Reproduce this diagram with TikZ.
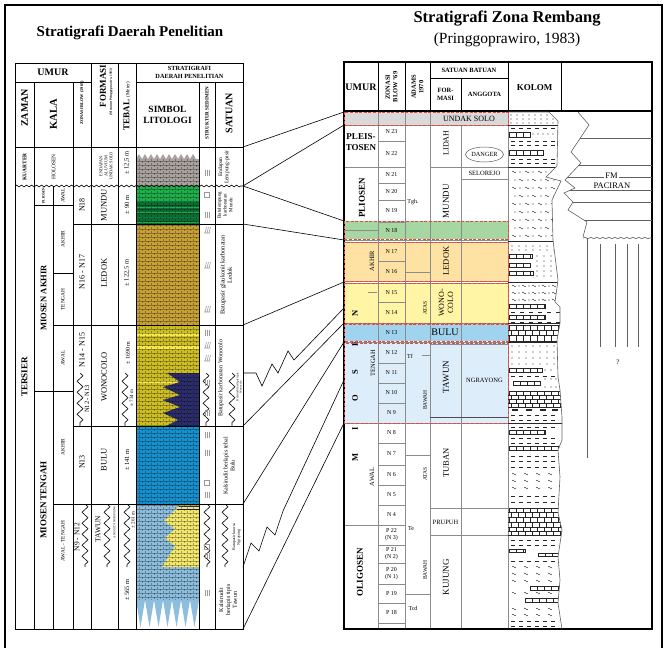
\documentclass[tikz,border=0pt]{standalone}
\usepackage{fontspec}
\setmainfont{Liberation Serif}
\usetikzlibrary{decorations.pathmorphing,shapes.geometric}

\definecolor{kgrey}{HTML}{A9A29E}
\definecolor{mgreen}{HTML}{1EB04C}
\definecolor{mgreendk}{HTML}{0D6B36}
\definecolor{lgold}{HTML}{C8A236}
\definecolor{wolive}{HTML}{CDBF23}
\definecolor{wyellow}{HTML}{F6EA4C}
\definecolor{wnavy}{HTML}{2C2E6C}
\definecolor{bblue}{HTML}{1792D0}
\definecolor{tblue}{HTML}{8DBEDD}
\definecolor{tyellow}{HTML}{F3E86C}
\definecolor{bandgrey}{HTML}{D9D9D9}
\definecolor{bandgreen}{HTML}{A6D6A1}
\definecolor{bandorange}{HTML}{FDE2A3}
\definecolor{bandyellow}{HTML}{FFF5A5}
\definecolor{bandblue}{HTML}{9FD3EE}
\definecolor{bandlight}{HTML}{DDEEFA}
\definecolor{bandred}{HTML}{E5483D}
\definecolor{gridgrey}{HTML}{8C8C8C}

\newcommand{\fsz}[1]{\fontsize{#1}{1.15\dimexpr#1pt\relax}\selectfont}
\newcommand{\brickrow}[4]{%
  \draw[lith] (#1,#3) rectangle (#2,#4);
  \foreach \k in {1,...,9}{%
    \pgfmathsetmacro\bx{#1+7*\k}%
    \ifdim\bx pt<#2pt \draw[lith] (\bx,#3) -- (\bx,#4);\fi}}
\newcommand{\tld}[2]{\draw[lith] (#1,#2) sin (#1+1,#2-0.8) cos (#1+2,#2) sin (#1+3,#2+0.8) cos (#1+4,#2);}
\newcommand{\lamin}[2]{\draw[strk] (#1-2,#2-3) -- (#1-2,#2+3) (#1,#2-3) -- (#1,#2+3) (#1+2,#2-3) -- (#1+2,#2+3);}
\newcommand{\sqmark}[2]{\draw[strk] (#1-2.5,#2-2.5) rectangle (#1+2.5,#2+2.5);}
\newcommand{\xbed}[2]{\draw[strk] (#1-3,#2+3) -- (#1+3,#2+3) (#1-2,#2+3) -- (#1-0.5,#2-3) (#1,#2+3) -- (#1+1.5,#2-3) (#1+2,#2+3) -- (#1+3.5,#2-3);}
\newcommand{\kedge}{549/112,558/121,557/166,546/177,561/181,552/200,553/240,558/280,555/302,560/307,560/323,557/340,558/377,560/390,562/417,562/440,558/450,560/477,558/513,562/530,558/557,560/580,558/603,562/629}
\newcommand{\fmedge}{578/112,589/125,571/152,581/163,565/180,575/188,564/193,573/202,568/210,587/222,583/237}

\tikzset{
  txt/.style={inner sep=0pt, align=center},
  vtxt/.style={txt, rotate=90},
  cell/.style={line width=0.6pt},
  gline/.style={gridgrey, line width=0.6pt},
  kline/.style={gray!75!black, line width=0.6pt},
  band/.style={draw=bandred, line width=1pt, dash pattern=on 3pt off 1.6pt},
  zz/.style={decorate, decoration={zigzag, segment length=11pt, amplitude=3pt}},
  corr/.style={line width=0.6pt},
  pat/.style={black, opacity=0.3, line width=0.35pt},
  lith/.style={black!85, line width=0.35pt},
  lithc/.style={black!85},
  strk/.style={black!40, line width=0.6pt}
}

\begin{document}
\begin{tikzpicture}[x=1pt, y=-1pt]
\useasboundingbox (0,0) rectangle (670,648);
\draw[line width=1.4pt] (5,648) -- (5,5) -- (662,5) -- (662,648);

\node[txt, font=\bfseries\fsz{15}] (titleL) at (130,33) {Stratigrafi Daerah Penelitian};
\node[txt, font=\bfseries\fsz{16.5}] (titleR) at (507,19) {Stratigrafi Zona Rembang};
\node[txt, font=\fsz{15.5}] (titleRsub) at (507,40) {(Pringgoprawiro, 1983)};

\fill[kgrey] (136,186) -- (136,159) foreach \x in {136,142,...,190} { -- (\x+3,154) -- (\x+6,159) } -- (199,159) -- (199,186) -- cycle;
\fill[mgreen] (136,186) rectangle (199,224);
\fill[mgreendk] (136,202) rectangle (199,224);
\foreach \y in {207,212,217,222} {\draw[mgreen, line width=0.7pt] (136,\y) -- (199,\y);}
\fill[lgold] (136,224) rectangle (199,325);
\fill[wolive] (136,325) rectangle (199,426);
\fill[wyellow] (136,333) rectangle (199,336) (136,346) rectangle (199,349) (136,381) rectangle (178,383);
\fill[wnavy] (167,373) -- (199,373) -- (199,426) -- (166,426) -- (178,420) -- (163,413) -- (180,407) -- (163,400) -- (180,395) -- (163,387) -- (180,382) -- cycle;
\fill[bblue] (136,426) rectangle (199,504);
\fill[tblue] (136,504) rectangle (199,600);
\foreach \x in {136,145,...,190} {\fill[tblue] (\x,600) -- (\x+4.5,627) -- (\x+9,600) -- cycle;}
\fill[tyellow] (181,504) -- (199,504) -- (199,567) -- (162,567) -- (175,546) -- (165,538) -- (175,529) -- (164,521) -- cycle;
\draw[wnavy, line width=0.8pt] (179,506) -- (199,506) (177,509) -- (199,509);
\begin{scope}
  \clip (136,159) rectangle (199,600);
  \foreach \y in {161,165,...,599} {\draw[pat] (136,\y) -- (199,\y);}
  \foreach \x in {139,145,...,199} {\draw[pat, dash pattern=on 2pt off 2pt] (\x,159) -- (\x,600);}
  \foreach \x in {142,148,...,199} {\draw[pat, dash pattern=on 2pt off 2pt, dash phase=2pt] (\x,159) -- (\x,600);}
\end{scope}

\draw[line width=1pt] (15,63) rectangle (243,629);
\draw[cell] (15,82) -- (91,82) (136,82) -- (243,82) (15,147) -- (243,147);
\foreach \x/\ya in {34/82, 73/82, 91/63, 118/63, 136/63, 199/82, 215/82}
  {\draw[cell] (\x,\ya) -- (\x,629);}
\draw[cell] (53,186) -- (53,629);
\draw[cell] (34,205) -- (73,205) (53,273) -- (73,273) (34,391) -- (73,391);
\foreach \y/\xa in {224/73, 325/53, 426/73, 504/53}
  {\draw[cell] (\xa,\y) -- (243,\y);}
\draw[cell, decorate, decoration={snake, segment length=5pt, amplitude=0.9pt}] (15,186) -- (243,186);
\foreach \x in {80,125,206,232} {\draw[cell, zz] (\x,373) -- (\x,426);}
\foreach \x in {85,107,127,207,225} {\draw[cell, zz] (\x,504) -- (\x,567);}

\node[txt, font=\bfseries\fsz{10}] (hUmurL) at (53,72.5) {UMUR};
\node[vtxt, font=\bfseries\fsz{10}] (hZaman) at (24.5,108) {ZAMAN};
\node[vtxt, font=\bfseries\fsz{10.5}] (hKala) at (53.5,114) {KALA};
\node[vtxt, font=\bfseries\fsz{4.3}] (hBlow) at (82,103) {ZONASI BLOW (1969)};
\node[vtxt, font=\bfseries\fsz{9}] (hFormasi) at (103,86) {FORMASI};
\node[vtxt, font=\bfseries\fsz{3.3}] (hMenurut) at (111,92) {(Menurut Pringgoprawiro, 1983)};
\node[vtxt] (hTebal) at (127,106) {{\bfseries\fsz{9}TEBAL} {\fsz{5}(Meter)}};
\node[txt, font=\bfseries\fsz{6.3}] (hStrat) at (189.5,72.5) {STRATIGRAFI\\DAERAH PENELITIAN};
\node[txt, font=\bfseries\fsz{9.5}] (hSimbol) at (167.5,114.5) {SIMBOL\\LITOLOGI};
\node[vtxt, font=\bfseries\fsz{5}] (hStruktur) at (207,113) {STRUKTUR SEDIMEN};
\node[vtxt, font=\bfseries\fsz{10}] (hSatuanL) at (229,113) {SATUAN};

\node[vtxt, font=\bfseries\fsz{5.5}] (kuarter) at (24.5,167) {KUARTER};
\node[vtxt, font=\fsz{5.5}] (holosen) at (53.5,167) {HOLOSEN};
\node[vtxt, font=\bfseries\fsz{9}] (tersier) at (24.5,377) {TERSIER};
\node[vtxt, font=\bfseries\fsz{3.6}] (pliosenL) at (43.5,195.5) {PLIOSEN};
\node[vtxt, font=\fsz{5.3}] (awalP) at (63,195.5) {AWAL};
\node[vtxt, font=\bfseries\fsz{8.5}] (mioAkhir) at (43.5,298) {MIOSEN AKHIR};
\node[vtxt, font=\fsz{5.3}] (akhirA) at (63,239) {AKHIR};
\node[vtxt, font=\fsz{5.3}] (tengahA) at (63,299.5) {TENGAH};
\node[vtxt, font=\fsz{5.3}] (awalA) at (63,358) {AWAL};
\node[vtxt, font=\bfseries\fsz{9}] (mioTengah) at (43.5,500) {MIOSEN TENGAH};
\node[vtxt, font=\fsz{5.3}] (akhirT) at (63,447) {AKHIR};
\node[vtxt, font=\fsz{5.3}] (awalT) at (63,541) {AWAL - TENGAH};

\node[vtxt, font=\fsz{8}] (zN18) at (82,205) {N18};
\node[vtxt, font=\fsz{8}] (zN1617) at (82,272) {N16 - N17};
\node[vtxt, font=\fsz{8}] (zN1415) at (82,350) {N14 - N15};
\node[vtxt, font=\fsz{6.5}] (zN1213) at (87,399) {N12 - N13};
\node[vtxt, font=\fsz{8}] (zN13) at (82,462) {N13};
\node[vtxt, font=\fsz{7.5}] (zN912) at (77,537) {N9 - N12};

\node[vtxt, font=\fsz{4.3}] (fAluvium) at (106,166) {ENDAPAN\\ALUVIUM\\UNDAK SOLO};
\node[vtxt, font=\fsz{8.5}] (fMundu) at (104,205) {MUNDU};
\node[vtxt, font=\fsz{8.5}] (fLedok) at (104,273) {LEDOK};
\node[vtxt, font=\fsz{8.5}] (fWonocolo) at (104,377) {WONOCOLO};
\node[vtxt, font=\fsz{8.5}] (fBulu) at (104,460) {BULU};
\node[vtxt, font=\fsz{7.5}] (fTawun) at (98,529) {TAWUN};
\node[vtxt, font=\fsz{3}] (fNgrayong) at (114.5,522) {ANGGOTA NGRAYONG};

\node[vtxt, font=\fsz{6.5}] (tKuarter) at (127,163) {± 12,5 m};
\node[vtxt, font=\fsz{6.5}] (tMundu) at (127,205) {± 90 m};
\node[vtxt, font=\fsz{6.5}] (tLedok) at (127,273) {± 122,5 m};
\node[vtxt, font=\fsz{6}] (tWono) at (128,353) {± 1690 m};
\node[vtxt, font=\fsz{5}] (tKalsi) at (131.5,398) {± 734 m};
\node[vtxt, font=\fsz{6.5}] (tBulu) at (127,460) {± 141 m};
\node[vtxt, font=\fsz{5}] (tNgrayong) at (133,520) {± 261 m};
\node[vtxt, font=\fsz{6.5}] (tTawun) at (127,590) {± 565 m};

\node[vtxt, font=\fsz{5.5}] (sAluvium) at (224,167) {Endapan\\Lempung-pasir};
\node[vtxt, font=\fsz{5}] (sMundu) at (225,205) {Batulempung\\karbonatan\\Mundu};
\node[vtxt, font=\fsz{6.3}] (sLedok) at (226,275) {Batupasir glaukonit karbonatan\\Ledok};
\node[vtxt, font=\fsz{6}] (sWono) at (221,378) {Batupasir karbonatan Wonocolo};
\node[vtxt, font=\fsz{3}] (sWonoKal) at (239,387) {Kalsirudit berlapis tipis\\Wonocolo};
\node[vtxt, font=\fsz{6}] (sBulu) at (229,466) {Kalsirudit berlapis tebal\\Bulu};
\node[vtxt, font=\fsz{4}] (sNgrayong) at (236.5,537) {Batupasir kuarsa\\Ngrayong};
\node[vtxt, font=\fsz{6}] (sTawun) at (228,600) {Kalsirudit\\berlapis tipis\\Tawun};

\foreach \y in {173,215,333,383,413,435,453,495,556,593} {\lamin{207}{\y}}
\foreach \y in {195,483,547} {\sqmark{207}{\y}}
\foreach \y in {230,265,309,345,358} {\xbed{207}{\y}}

\foreach \c/\ya/\yb in {bandgrey/112/125, bandgreen/221/239, bandorange/242/281, bandyellow/283/323, bandblue/324/341, bandlight/343/423}
  {\fill[\c] (344,\ya) rectangle (508,\yb);}

\foreach \x in {378,405,430,508} {\draw[gline] (\x,111) -- (\x,629);}
\draw[gline] (461,125) -- (461,629);
\foreach \y in {125,240,242,281,283,323,342,423} {\draw[gline] (344,\y) -- (508,\y);}
\draw[gline] (344,167) -- (405,167) (430,167) -- (508,167) (344,230) -- (378,230) (344,525) -- (378,525) (368,292) -- (377,292);
\foreach \y in {141,183,200,222,261,302,363,383,403,443,465,485,505,525,545,563,584,603,623} {\draw[gline] (378,\y) -- (405,\y);}
\draw[gline] (405,272) -- (430,272) (405,455) -- (430,455) (405,594) -- (430,594) (422,355) -- (430,355);
\draw[gline] (461,179) -- (508,179) (430,344) -- (508,344) (430,508) -- (508,508) (430,535) -- (508,535);
\draw[gray!60!black, line width=1pt] (430,417) -- (508,417);
\draw[line width=1.1pt] (344,62) rectangle (652,629);
\draw[line width=1.1pt] (344,111) -- (652,111);
\foreach \x in {378,405,430,508,561} {\draw[cell] (\x,62) -- (\x,111);}
\draw[cell] (430,78) -- (508,78) (461,78) -- (461,111);

\node[txt, font=\bfseries\fsz{10}] (hUmurR) at (361,87) {UMUR};
\node[vtxt, font=\bfseries\fsz{6.5}] (hBlowR) at (391.5,87) {ZONASI\\BLOW '69};
\node[vtxt, font=\bfseries\fsz{6.5}] (hAdams) at (417.5,87) {ADAMS\\1970};
\node[txt, font=\bfseries\fsz{6.5}] (hSatBat) at (469,70) {SATUAN BATUAN};
\node[txt, font=\bfseries\fsz{6.5}] (hForR) at (445.5,94.5) {FOR-\\MASI};
\node[txt, font=\bfseries\fsz{6.5}] (hAnggota) at (484.5,94.5) {ANGGOTA};
\node[txt, font=\bfseries\fsz{9}] (hKolom) at (534.5,88) {KOLOM};

\node[txt, font=\fsz{8}] (undak) at (469,118.5) {UNDAK SOLO};
\node[txt, font=\bfseries\fsz{9}] (pleis) at (361,142) {PLEIS-\\TOSEN};
\node[vtxt, font=\bfseries\fsz{9}] (pliosenR) at (362,198) {PLIOSEN};
\node[vtxt, font=\fsz{6.5}] (akhirR) at (372,261) {AKHIR};
\node[vtxt, font=\fsz{6.5}] (tengahR) at (373,363) {TENGAH};
\node[vtxt, font=\fsz{6.5}] (awalR) at (372,477) {AWAL};
\node[vtxt, font=\bfseries\fsz{9}] (oligosen) at (360,572) {OLIGOSEN};
\foreach \ch/\y [count=\i] in {N/313, E/344, S/372, O/398, I/429, M/457}
  {\node[vtxt, font=\bfseries\fsz{8.5}] (mio\i) at (355,\y) {\ch};}

\foreach \lbl/\y [count=\i] in {N 23/132, N 22/154, N 21/175, N 20/191.5, N 19/211, N 18/230.5, N 17/251.5, N 16/271.5, N 15/292.5, N 14/312.5, N 13/332.5, N 12/352.5, N 11/373, N 10/393, N 9/413, N 8/433, N 7/454, N 6/475, N 5/495, N 4/515, P 19/593.5, P 18/613}
  {\node[txt, font=\fsz{6}] (zr\i) at (391.5,\y) {\lbl};}
\foreach \ta/\tb/\y [count=\i] in {P 22/N 3/535, P 21/N 2/554, P 20/N 1/574}
  {\node[txt, font=\fsz{6}] (zp\i) at (391.5,\y) {\ta\\(\tb)};}

\node[txt, font=\fsz{6}] (tgh) at (413,202) {Tgh.};
\node[vtxt, font=\fsz{5.5}] (tfAtas) at (425,308) {ATAS};
\node[txt, font=\fsz{6}] (tf) at (410,356) {Tf};
\node[vtxt, font=\fsz{5.5}] (tfBawah) at (425,400) {BAWAH};
\node[vtxt, font=\fsz{5.5}] (teAtas) at (425,474) {ATAS};
\node[txt, font=\fsz{6}] (te) at (411,529) {Te};
\node[vtxt, font=\fsz{5.5}] (teBawah) at (425,570) {BAWAH};
\node[txt, font=\fsz{6}] (tcd) at (413,608) {Tcd};

\node[vtxt, font=\fsz{8}] (lidah) at (446,143) {LIDAH};
\node[vtxt, font=\fsz{9}] (munduR) at (446,201) {MUNDU};
\node[ellipse, draw=gray!70!black, line width=0.5pt, minimum width=38pt, minimum height=15pt, inner sep=0pt, font=\fsz{6.3}] (danger) at (484.5,154.5) {DANGER};
\node[txt, font=\fsz{6.5}] (selorejo) at (484.5,173) {SELOREJO};
\node[vtxt, font=\fsz{8.5}] (ledokR) at (446,261) {LEDOK};
\node[vtxt, font=\fsz{8}] (wonoR) at (446,303) {WONO-\\COLO};
\node[txt, font=\fsz{10}] (buluR) at (445,332.5) {BULU};
\node[vtxt, font=\fsz{9}] (tawunR) at (446,377) {TAWUN};
\node[txt, font=\fsz{6.5}] (ngrayongR) at (484.5,380) {NGRAYONG};
\node[vtxt, font=\fsz{8.5}] (tuban) at (446,463) {TUBAN};
\node[txt, font=\fsz{6.5}] (prupuh) at (445.5,522) {PRUPUH};
\node[vtxt, font=\fsz{9}] (kujung) at (446,577) {KUJUNG};

\foreach \c/\ya/\yb in {bandgrey/112/125, bandgreen/221/239, bandorange/242/281, bandyellow/283/323, bandblue/324/341, bandlight/343/423}
  {\draw[band] (344,\ya) rectangle (508,\yb);}

\begin{scope}
  \clip (508,112) foreach \x/\y in \kedge { -- (\x,\y) } -- (508,629) -- cycle;
  \foreach \y in {125,167,241,282,323,342,423,535} {\draw[lith] (508,\y) -- (565,\y);}
  \foreach \y in {115,119,123} {\foreach \x in {511,517,...,556} {\fill[lithc] (\x,\y) circle (0.7);}}
  \foreach \y in {128,141,145,159,163} {\foreach \x in {511,519,...,556} {\draw[lith] (\x,\y) -- ++(4,0);}}
  \brickrow{509}{530}{132}{137}
  \brickrow{509}{543}{150}{155}
  \foreach \x in {533,538,...,556} {\fill[lithc] (\x,134) circle (0.6);}
  \foreach \y in {172,188,204,220,236} {\foreach \x in {512,525,...,556} {\tld{\x}{\y} \fill[lithc] (\x+8,\y) circle (0.7);}}
  \foreach \y in {180,196,212,228} {\foreach \x in {515,528,...,556} {\fill[lithc] (\x,\y) circle (0.7); \tld{\x+4}{\y}}}
  \foreach \y in {246,250} {\foreach \x in {512,519,...,556} {\fill[lithc] (\x,\y) circle (0.7);}}
  \foreach \y in {256,261,266,271,276} {\foreach \x in {537,544,...,556} {\fill[lithc] (\x,\y) circle (0.7);}}
  \brickrow{509}{532}{254}{258}
  \brickrow{509}{530}{263}{267}
  \brickrow{509}{533}{271}{275}
  \foreach \y in {286,293,300} {\foreach \x in {512,522,...,556} {\tld{\x}{\y} \fill[lithc] (\x+7,\y) circle (0.6);}}
  \brickrow{509}{545}{304}{308}
  \foreach \x in {511,520,...,556} {\draw[lith] (\x,312) -- ++(4,0);}
  \brickrow{509}{545}{315}{319}
  \foreach \x in {511,520,...,556} {\draw[lith] (\x,322) -- ++(4,0);}
  \brickrow{509}{562}{325}{330}
  \brickrow{504}{562}{330}{335}
  \brickrow{509}{562}{335}{341}
  \foreach \y in {346,352,358,364} {\foreach \x in {512,519,...,556} {\fill[lithc] (\x,\y) circle (0.7);}}
  \brickrow{509}{542}{368}{372}
  \foreach \x in {545,551} {\fill[lithc] (\x,370) circle (0.7);}
  \foreach \x in {511,519,...,556} {\draw[lith] (\x,376) -- ++(4,0);}
  \brickrow{513}{540}{381}{385}
  \foreach \y in {379,387} {\foreach \x in {545,551,556} {\fill[lithc] (\x,\y) circle (0.7);}}
  \brickrow{509}{562}{391}{395}
  \brickrow{504}{562}{395}{399}
  \brickrow{509}{562}{399}{403}
  \brickrow{504}{562}{403}{407}
  \foreach \x in {512,526,540,552} {\fill[lithc] (\x,409) rectangle ++(6,2);}
  \foreach \y in {415,420} {\foreach \x in {511,519,...,556} {\draw[lith] (\x,\y) -- ++(4,0);}}
  \foreach \y in {427,438,443,456,461,467} {\foreach \x in {511,519,...,556} {\draw[lith] (\x,\y) -- ++(4,0);}}
  \brickrow{509}{545}{430}{434}
  \brickrow{509}{560}{446}{450}
  \foreach \y in {474,481,488} {\foreach \x in {512,524,...,556} {\tld{\x}{\y}}}
  \foreach \y in {496,502} {\foreach \x in {511,519,...,556} {\draw[lith] (\x,\y) -- ++(4,0);}}
  \brickrow{509}{562}{508}{512}
  \brickrow{504}{562}{512}{517}
  \brickrow{509}{562}{517}{522}
  \brickrow{504}{562}{522}{527}
  \brickrow{509}{562}{527}{531}
  \brickrow{504}{562}{531}{535}
  \foreach \y in {540,545,561} {\foreach \x in {511,519,...,556} {\draw[lith] (\x,\y) -- ++(4,0);}}
  \brickrow{509}{525}{549}{552}
  \brickrow{538}{560}{553}{556}
  \foreach \y in {567,574,581,593,609,615} {\foreach \x in {512,524,...,556} {\tld{\x}{\y}}}
  \brickrow{530}{560}{586}{590}
  \brickrow{525}{560}{598}{602}
  \foreach \y in {621,626} {\foreach \x in {511,519,...,556} {\draw[lith] (\x,\y) -- ++(4,0);}}
\end{scope}
\draw[kline] (508,112) foreach \x/\y in \kedge { -- (\x,\y) };

\draw[kline] (578,112) foreach \x/\y in \fmedge { -- (\x,\y) };
\begin{scope}
  \clip (652,112) foreach \x/\y in \fmedge { -- (\x,\y) } -- (652,237) -- cycle;
  \foreach \y in {138,165,177,190,202,220} {\draw[kline] (560,\y) -- (652,\y);}
\end{scope}
\node[txt, fill=white, inner sep=1pt, font=\fsz{8.5}] (fmLbl) at (611.5,176) {FM};
\node[txt, font=\fsz{8.5}] (pacLbl) at (612,186) {PACIRAN};
\draw[kline, decorate, decoration={snake, segment length=6pt, amplitude=0.8pt}] (583,238) -- (652,238);
\draw[kline] (587,238) -- (587,458);
\foreach \x in {600,615,627,638} {\draw[kline, line width=0.9pt] (\x,244) -- (\x,347);}
\node[txt, font=\fsz{7}] (qmark) at (618,362) {?};

\foreach \n/\y in {1/147, 2/186, 4/224, 5/325, 6/373, 7/426, 8/504, 9/567, 10/629} {\coordinate (sL\n) at (243,\y);}
\foreach \n/\y in {1/112, 2/125, 3/221, 4/240, 5/282, 6/308, 7/323, 8/342, 9/380, 10/423} {\coordinate (sR\n) at (344,\y);}
\draw[corr] (sL1) -- (sR1);
\draw[corr] (sL2) -- (sR2);
\draw[corr] (sL2) -- (sR3);
\draw[corr] (sL4) -- (sR4);
\draw[corr] (sL5) -- (sR5);
\draw[corr] (sL6) -- ++(13,0) -- ++(6,13) -- ++(10,-22) -- ++(6,9) -- ++(10,-22) -- ++(6,9) -- (sR6);
\draw[corr] (sL7) -- (sR7);
\draw[corr] (sL8) -- (sR8);
\draw[corr] (sL9) -- ++(8,-24) -- ++(8,8) -- ++(8,-24) -- ++(8,8) -- ++(8,-24) -- (sR9);
\draw[corr] (sL10) -- (sR10);
\end{tikzpicture}
\end{document}
